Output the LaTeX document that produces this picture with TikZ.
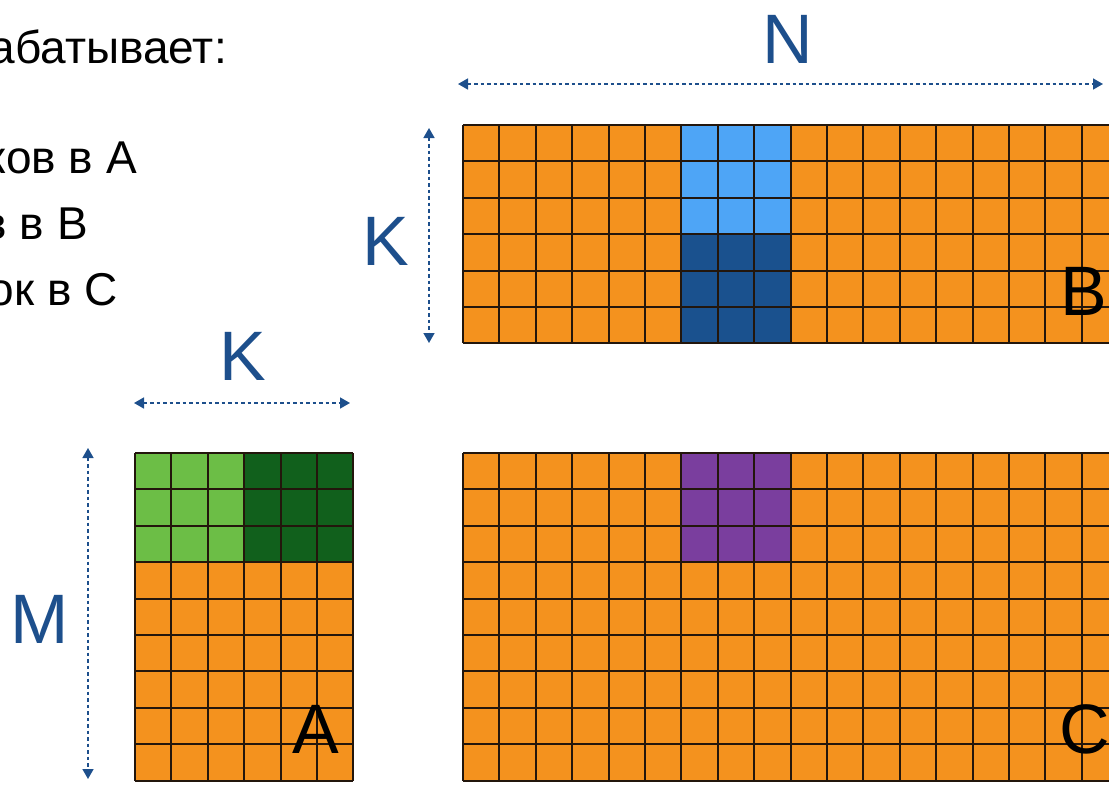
\documentclass[tikz,border=0pt]{standalone}
\usepackage{fontspec}
\setmainfont{Liberation Sans}
\usetikzlibrary{arrows.meta}
\definecolor{org}{RGB}{244,146,30}
\definecolor{lblue}{RGB}{78,165,246}
\definecolor{dblue}{RGB}{26,81,142}
\definecolor{lgreen}{RGB}{108,190,70}
\definecolor{dgreen}{RGB}{17,96,28}
\definecolor{purp}{RGB}{122,62,158}
\definecolor{labc}{RGB}{29,79,140}
\definecolor{gridc}{RGB}{35,22,12}
\begin{document}
\begin{tikzpicture}[x=1pt,y=-1pt,
  gridline/.style={draw=gridc,line width=1.9pt},
  dimarrow/.style={draw=labc,line width=1.6pt,dash pattern=on 3.5pt off 3pt,
    {Triangle[length=10pt,width=11pt]}-{Triangle[length=10pt,width=11pt]}},
  dimlabel/.style={text=labc,anchor=base,inner sep=0pt,font=\fontsize{70}{70}\selectfont},
  matlabel/.style={text=black,anchor=base,inner sep=0pt,font=\fontsize{70}{70}\selectfont},
  bodytext/.style={text=black,anchor=base east,inner sep=0pt,font=\fontsize{46}{46}\selectfont}]
\useasboundingbox (0,0) rectangle (1109,785);
\clip (0,0) rectangle (1109,785);
\def\s{36.4}
% ---- matrix B ----
\fill[org] (463,125) rectangle ++(18*\s,6*\s);
\fill[lblue] (463+6*\s,125) rectangle ++(3*\s,3*\s);
\fill[dblue] (463+6*\s,125+3*\s) rectangle ++(3*\s,3*\s);
\foreach \i in {0,...,18} \draw[gridline] (463+\i*\s,125) -- ++(0,6*\s);
\foreach \j in {0,...,6} \draw[gridline] (463,125+\j*\s) -- ++(18*\s,0);
% ---- matrix C ----
\fill[org] (463,453) rectangle ++(18*\s,9*\s);
\fill[purp] (463+6*\s,453) rectangle ++(3*\s,3*\s);
\foreach \i in {0,...,18} \draw[gridline] (463+\i*\s,453) -- ++(0,9*\s);
\foreach \j in {0,...,9} \draw[gridline] (463,453+\j*\s) -- ++(18*\s,0);
% ---- matrix A ----
\fill[org] (135,453) rectangle ++(6*\s,9*\s);
\fill[lgreen] (135,453) rectangle ++(3*\s,3*\s);
\fill[dgreen] (135+3*\s,453) rectangle ++(3*\s,3*\s);
\foreach \i in {0,...,6} \draw[gridline] (135+\i*\s,453) -- ++(0,9*\s);
\foreach \j in {0,...,9} \draw[gridline] (135,453+\j*\s) -- ++(6*\s,0);
% ---- matrix labels ----
\node[matlabel] (labB) at (1084,315) {B};
\node[matlabel] (labA) at (316,753) {A};
\node[matlabel] (labC) at (1085,753) {C};
% ---- dimension arrows ----
\coordinate (nL) at (458,84);
\coordinate (nR) at (1103,84);
\coordinate (kbT) at (429,128);
\coordinate (kbB) at (429,343);
\coordinate (kaL) at (134,403);
\coordinate (kaR) at (350,403);
\coordinate (mT) at (88,448);
\coordinate (mB) at (88,779);
\draw[dimarrow] (nL) -- (nR);
\draw[dimarrow] (kbT) -- (kbB);
\draw[dimarrow] (kaL) -- (kaR);
\draw[dimarrow] (mT) -- (mB);
\node[dimlabel] (labN) at (788,63) {N};
\node[dimlabel] (labKB) at (386,265) {K};
\node[dimlabel] (labKA) at (243,380) {K};
\node[dimlabel] (labM) at (40,643) {M};
% ---- text ----
\node[bodytext] (t1) at (227,63) {абатывает:};
\node[bodytext] (t2) at (137,173) {ков в A};
\node[bodytext] (t3) at (88,239) {в в B};
\node[bodytext] (t4) at (118,305) {ок в C};
\end{tikzpicture}
\end{document}
